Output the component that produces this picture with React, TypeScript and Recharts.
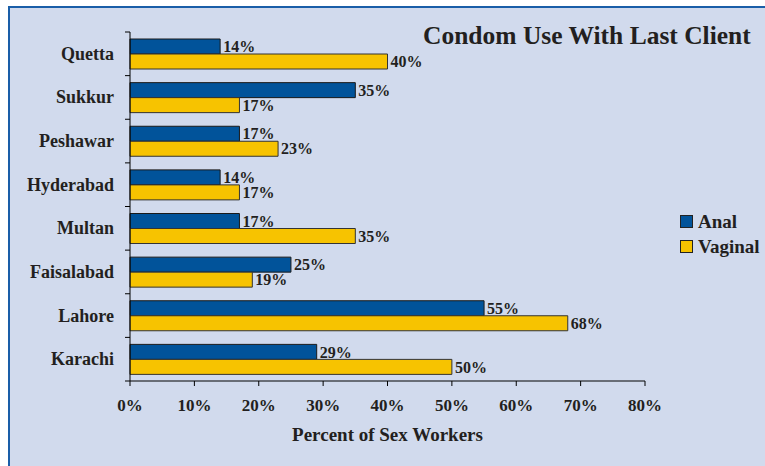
import { BarChart, Bar, XAxis, YAxis, LabelList, Legend } from "recharts";

const cities = ["Quetta", "Sukkur", "Peshawar", "Hyderabad", "Multan", "Faisalabad", "Lahore", "Karachi"];
const anal = [14, 35, 17, 14, 17, 25, 55, 29];
const vaginal = [40, 17, 23, 17, 35, 19, 68, 50];
const xTicks = [0, 10, 20, 30, 40, 50, 60, 70, 80];

const data = cities.map((city, i) => ({ city, anal: anal[i], vaginal: vaginal[i] }));

const FONT = "'Liberation Serif', serif";
const INK = "#231f20";
const BLUE = "#01539a";
const YELLOW = "#f7c300";

const PLOT_TOP = 32;
const PLOT_BOTTOM = 381;
const BAND = (PLOT_BOTTOM - PLOT_TOP) / cities.length;

function CityTick(props: any) {
  const { x, y, payload, index } = props;
  const axisX = x + 12;
  return (
    <g>
      <line x1={axisX - 5} x2={axisX} y1={y - BAND / 2} y2={y - BAND / 2} stroke="#000" strokeWidth={1} />
      {index === cities.length - 1 && (
        <line x1={axisX - 5} x2={axisX} y1={y + BAND / 2} y2={y + BAND / 2} stroke="#000" strokeWidth={1} />
      )}
      <text x={x - 4} y={y + 6} textAnchor="end" fontFamily={FONT} fontWeight="bold" fontSize={18} fill={INK}>
        {payload.value}
      </text>
    </g>
  );
}

function LegendBox(props: any) {
  const items = props.payload || [];
  return (
    <div style={{ fontFamily: FONT, fontWeight: "bold", fontSize: 19, color: INK }}>
      {items.map((it: any) => (
        <div key={it.value} style={{ display: "flex", alignItems: "center", height: 25 }}>
          <span
            style={{
              display: "inline-block",
              width: 11,
              height: 11,
              background: it.color,
              border: "1px solid #222",
              marginRight: 5,
            }}
          />
          {it.value}
        </div>
      ))}
    </div>
  );
}

export default function App() {
  return (
    <div style={{ position: "fixed", left: 0, top: 0, width: 765, height: 466, background: "#fff", overflow: "hidden" }}>
      <div
        style={{
          position: "absolute",
          left: 8,
          top: 6,
          width: 800,
          height: 500,
          borderTop: "2px solid #1a5ea8",
          borderLeft: "2px solid #1a5ea8",
          background: "#d1daed",
        }}
      />
      <div
        style={{
          position: "absolute",
          left: 423,
          top: 21,
          fontFamily: FONT,
          fontWeight: "bold",
          fontSize: 25.5,
          color: INK,
          whiteSpace: "nowrap",
        }}
      >
        Condom Use With Last Client
      </div>
      <div style={{ position: "absolute", left: 0, top: 0 }}>
        <BarChart
          width={765}
          height={466}
          data={data}
          layout="vertical"
          margin={{ top: PLOT_TOP, right: 120, bottom: 0, left: 0 }}
          barSize={15}
          barGap={0}
        >
          <XAxis
            type="number"
            domain={[0, 80]}
            ticks={xTicks}
            tickFormatter={(v) => `${v}%`}
            axisLine={{ stroke: "#000" }}
            tickLine={{ stroke: "#000" }}
            tickSize={5}
            height={85}
            tick={{ fontFamily: FONT, fontWeight: "bold", fontSize: 17, fill: INK }}
            tickMargin={13}
            label={{
              value: "Percent of Sex Workers",
              position: "insideTop",
              offset: 47,
              fontFamily: FONT,
              fontWeight: "bold",
              fontSize: 19,
              fill: INK,
            }}
          />
          <YAxis
            type="category"
            dataKey="city"
            width={130}
            axisLine={{ stroke: "#000" }}
            tickLine={false}
            tick={<CityTick />}
            tickMargin={0}
            tickSize={12}
          />
          <Legend
            layout="vertical"
            align="center"
            verticalAlign="middle"
            content={<LegendBox />}
            wrapperStyle={{ left: 680, top: 209, width: 100 }}
          />
          <Bar dataKey="anal" name="Anal" fill={BLUE} stroke="#1a1a1a" strokeWidth={1} isAnimationActive={false}>
            <LabelList
              dataKey="anal"
              position="right"
              offset={3}
              formatter={(v: any) => `${v}%`}
              style={{ fontFamily: FONT, fontWeight: "bold", fontSize: 16, fill: INK }}
            />
          </Bar>
          <Bar dataKey="vaginal" name="Vaginal" fill={YELLOW} stroke="#333" strokeWidth={1} isAnimationActive={false}>
            <LabelList
              dataKey="vaginal"
              position="right"
              offset={3}
              formatter={(v: any) => `${v}%`}
              style={{ fontFamily: FONT, fontWeight: "bold", fontSize: 16, fill: INK }}
            />
          </Bar>
        </BarChart>
      </div>
    </div>
  );
}
